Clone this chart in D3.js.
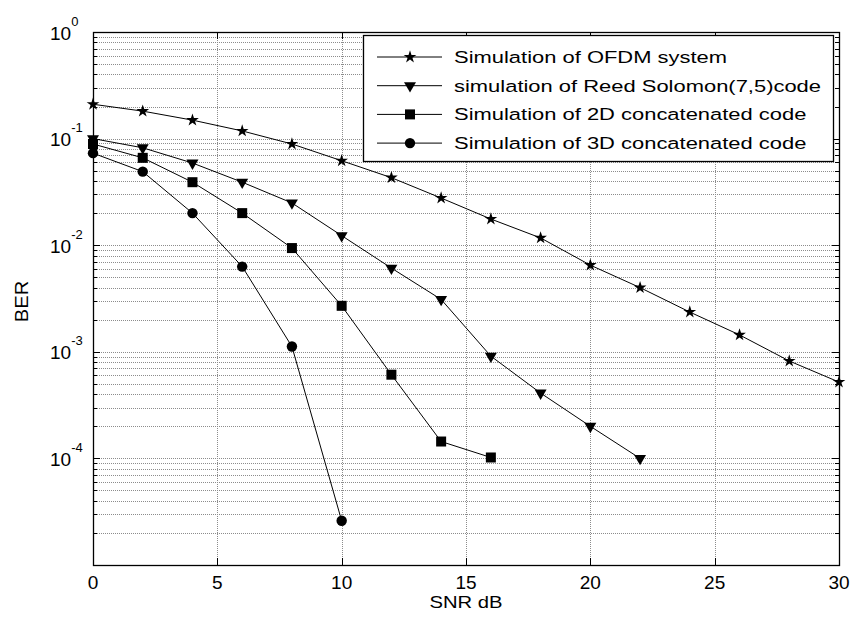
<!DOCTYPE html>
<html>
<head>
<meta charset="utf-8">
<script src="https://cdn.jsdelivr.net/npm/d3@7"></script>
<style>
  body { margin: 0; background: #fff; }
  svg { font-family: "Liberation Sans", Arial, sans-serif; }
  .grid line { stroke: #8c8c8c; stroke-width: 1; stroke-dasharray: 1,1; shape-rendering: crispEdges; }
  .curve { fill: none; stroke: #000; stroke-width: 1; }
</style>
</head>
<body>
<svg width="852" height="619"></svg>
<script>
// data
var snrOfdm = [0, 2, 4, 6, 8, 10, 12, 14, 16, 18, 20, 22, 24, 26, 28, 30];
var berOfdm = [0.21, 0.181, 0.149, 0.118, 0.089, 0.062, 0.043, 0.0277, 0.0176, 0.0117,
               0.0065, 0.0040, 0.00236, 0.00144, 0.00082, 0.00052];

var snrRs = [0, 2, 4, 6, 8, 10, 12, 14, 16, 18, 20, 22];
var berRs = [0.10, 0.082, 0.059, 0.039, 0.0249, 0.0123, 0.0061, 0.0031, 0.00091, 0.00041, 0.0002, 0.0001];

var snr2d = [0, 2, 4, 6, 8, 10, 12, 14, 16];
var ber2d = [0.089, 0.066, 0.039, 0.020, 0.0094, 0.0027, 0.00061, 0.000144, 0.000102];

var snr3d = [0, 2, 4, 6, 8, 10];
var ber3d = [0.073, 0.049, 0.020, 0.0063, 0.00112, 0.000026];

var seriesNames = ["Simulation of OFDM system", "simulation of Reed Solomon(7,5)code",
                   "Simulation of 2D concatenated code", "Simulation of 3D concatenated code"];
var xTicks = [0, 5, 10, 15, 20, 25, 30];
var yDecades = [0, -1, -2, -3, -4];

var series = [
  {name: seriesNames[0], x: snrOfdm, y: berOfdm, sym: d3.symbolStar, size: 50, rot: 0},
  {name: seriesNames[1], x: snrRs, y: berRs, sym: d3.symbolTriangle, size: 62, rot: 180},
  {name: seriesNames[2], x: snr2d, y: ber2d, sym: d3.symbolSquare, size: 100, rot: 0},
  {name: seriesNames[3], x: snr3d, y: ber3d, sym: d3.symbolCircle, size: 85, rot: 0}
];

var svg = d3.select("svg");
var pL = 93, pR = 839, pT = 32, pB = 565;

var x = d3.scaleLinear().domain([0, 30]).range([pL, pR]);
var y = d3.scaleLog().domain([1e-5, 1]).range([pB, pT]);

// minor log positions
var minorVals = [];
for (var e = -5; e < 0; e++) {
  for (var m = 2; m <= 9; m++) minorVals.push(m * Math.pow(10, e));
}

var grid = svg.append("g").attr("class", "grid");
grid.selectAll(".gy").data(minorVals.concat(yDecades.slice(1).map(function(d){ return Math.pow(10, d); })))
  .enter().append("line")
  .attr("x1", pL).attr("x2", pR)
  .attr("y1", function(d) { return Math.round(y(d)) + 0.5; })
  .attr("y2", function(d) { return Math.round(y(d)) + 0.5; });
grid.selectAll(".gx").data(xTicks.slice(1, -1))
  .enter().append("line")
  .attr("y1", pT).attr("y2", pB)
  .attr("x1", function(d) { return Math.round(x(d)) + 0.5; })
  .attr("x2", function(d) { return Math.round(x(d)) + 0.5; });

// axis box
svg.append("rect")
  .attr("x", pL + 0.5).attr("y", pT + 0.5)
  .attr("width", pR - pL).attr("height", pB - pT)
  .attr("fill", "none").attr("stroke", "#000").attr("stroke-width", 1.3);

// ticks (inside, MATLAB style)
var ticks = svg.append("g").attr("stroke", "#000").attr("stroke-width", 1);
xTicks.forEach(function(t) {
  var px = Math.round(x(t)) + 0.5;
  ticks.append("line").attr("x1", px).attr("x2", px).attr("y1", pB).attr("y2", pB - 7);
  ticks.append("line").attr("x1", px).attr("x2", px).attr("y1", pT).attr("y2", pT + 7);
});
yDecades.forEach(function(d) {
  var py = Math.round(y(Math.pow(10, d))) + 0.5;
  ticks.append("line").attr("x1", pL).attr("x2", pL + 7).attr("y1", py).attr("y2", py);
  ticks.append("line").attr("x1", pR).attr("x2", pR - 7).attr("y1", py).attr("y2", py);
});
minorVals.forEach(function(v) {
  var py = Math.round(y(v)) + 0.5;
  ticks.append("line").attr("x1", pL).attr("x2", pL + 4).attr("y1", py).attr("y2", py);
  ticks.append("line").attr("x1", pR).attr("x2", pR - 4).attr("y1", py).attr("y2", py);
});

// tick labels
svg.append("g").selectAll("text").data(xTicks).enter().append("text")
  .attr("x", function(d) { return x(d); })
  .attr("y", 589)
  .attr("text-anchor", "middle")
  .attr("font-size", 19)
  .text(function(d) { return d; });

var yl = svg.append("g").selectAll("text").data(yDecades).enter().append("text")
  .attr("x", 50)
  .attr("y", function(d) { return y(Math.pow(10, d)) + 7.5; })
  .attr("font-size", 19);
yl.append("tspan").text("10");
yl.append("tspan").attr("dy", -14).attr("font-size", 13).text(function(d) { return d; });

// axis titles
svg.append("text").attr("transform", "translate(" + x(15) + ",608) scale(1.19,1)")
  .attr("text-anchor", "middle").attr("font-size", 17).text("SNR dB");
svg.append("text").attr("transform", "translate(28,301.5) rotate(-90) scale(1.15,1)")
  .attr("text-anchor", "middle").attr("font-size", 17.5).text("BER");

// curves
var line = d3.line().x(function(d) { return x(d[0]); }).y(function(d) { return y(d[1]); });
var plot = svg.append("g");
series.forEach(function(s) {
  var pts = s.x.map(function(v, i) { return [v, s.y[i]]; });
  plot.append("path").attr("class", "curve").attr("d", line(pts));
  plot.selectAll(null).data(pts).enter().append("path")
    .attr("d", d3.symbol().type(s.sym).size(s.size))
    .attr("transform", function(d) { return "translate(" + x(d[0]) + "," + y(d[1]) + ") rotate(" + s.rot + ")"; })
    .attr("fill", "#000");
});

// legend
var lg = svg.append("g");
lg.append("rect").attr("x", 363.5).attr("y", 35.5).attr("width", 470).attr("height", 126)
  .attr("fill", "#fff").attr("stroke", "#000").attr("stroke-width", 1.3);
series.forEach(function(s, i) {
  var ry = 57 + i * 28.7;
  lg.append("line").attr("x1", 377).attr("x2", 442).attr("y1", ry).attr("y2", ry)
    .attr("stroke", "#000").attr("stroke-width", 1);
  lg.append("path").attr("d", d3.symbol().type(s.sym).size(s.size))
    .attr("transform", "translate(410," + ry + ") rotate(" + s.rot + ")").attr("fill", "#000");
  lg.append("text").attr("transform", "translate(454," + (ry + 6) + ") scale(1.33,1)")
    .attr("font-size", 16.5).text(s.name);
});
</script>
</body>
</html>
